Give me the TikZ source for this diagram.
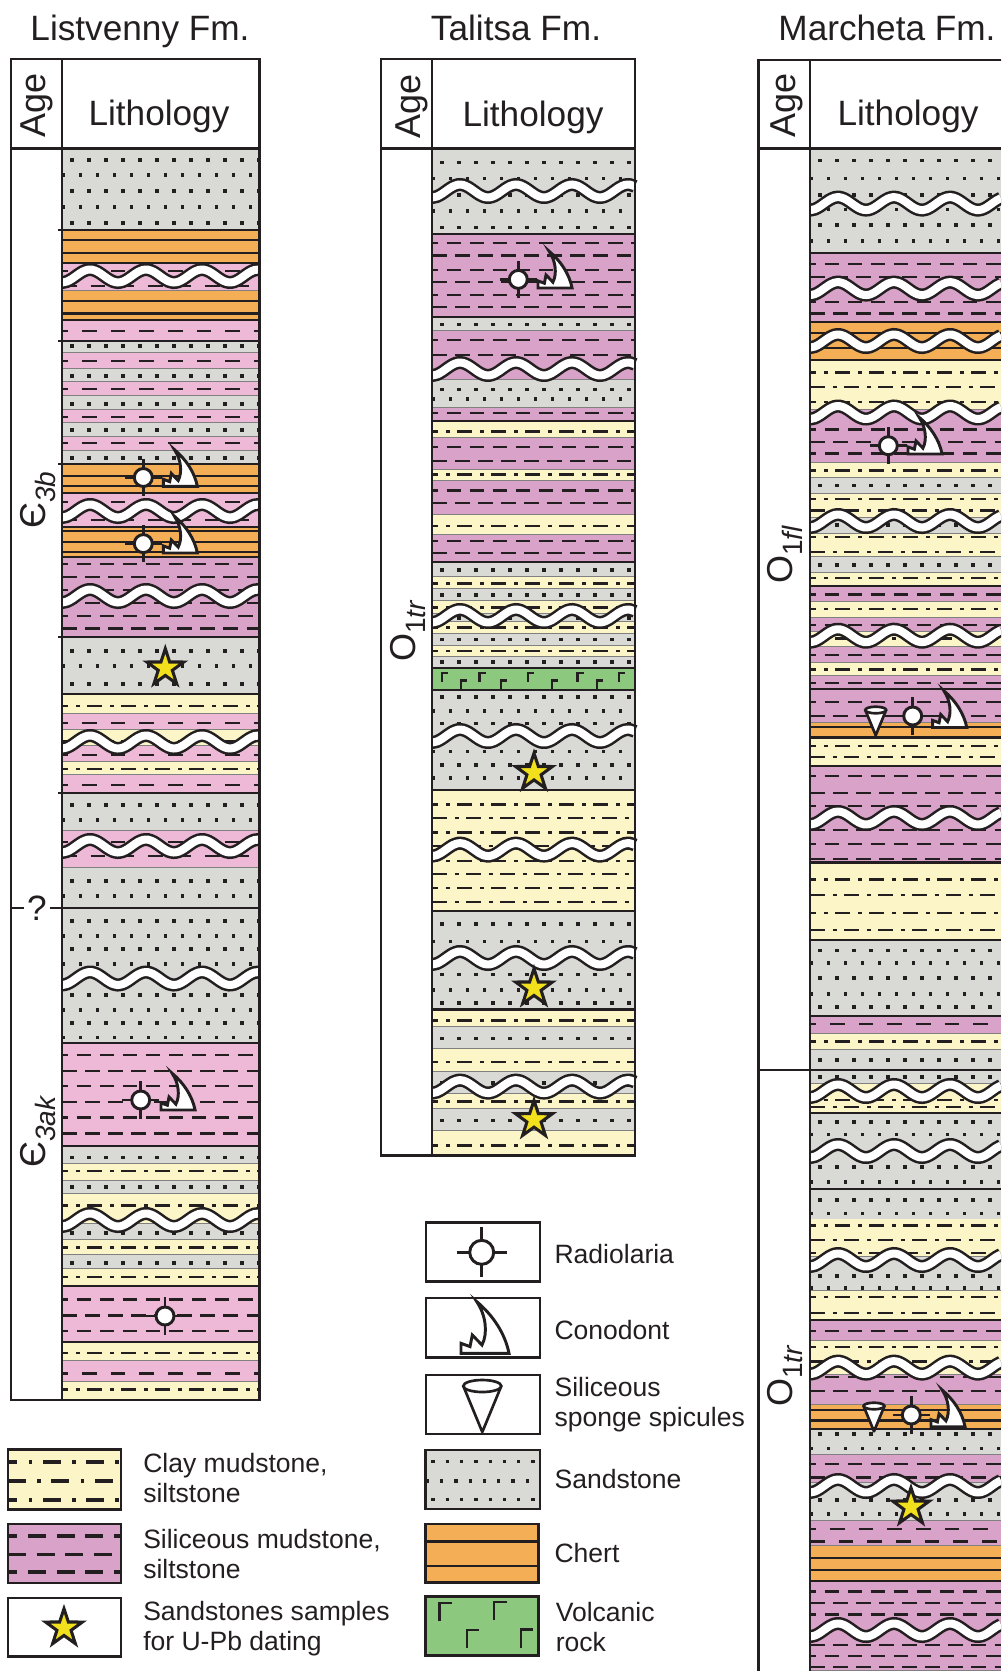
\documentclass[tikz,border=0pt]{standalone}
\usepackage{fontspec}
\setmainfont{Liberation Sans}
\usetikzlibrary{shapes.geometric}

\definecolor{ink}{HTML}{231F20}
\definecolor{sandcol}{HTML}{D9DAD6}
\definecolor{chertcol}{HTML}{F4AE55}
\definecolor{claycol}{HTML}{FCF5C8}
\definecolor{lsilcol}{HTML}{EDB9D7}
\definecolor{silcol}{HTML}{D9A2C8}
\definecolor{volccol}{HTML}{8CC97E}
\definecolor{starcol}{HTML}{F2E01C}

\tikzset{
  titlefont/.style={font=\fontsize{26.4}{30}\selectfont, text=ink, inner sep=0pt},
  agefont/.style={font=\fontsize{27}{30}\selectfont, text=ink, inner sep=0pt, rotate=90, anchor=base west},
  legendtext/.style={font=\fontsize{19.9}{22.5}\selectfont, text=ink, inner sep=0pt, align=left, anchor=west},
  frameline/.style={draw=ink, line width=2pt},
  contact/.style={draw=ink, line width=2pt},
  bedline/.style={draw=black!50, line width=.8pt},
  sandfill/.style={fill=sandcol},
  chertfill/.style={fill=chertcol},
  clayfill/.style={fill=claycol},
  silfill/.style={fill=silcol},
  silwfill/.style={fill=silcol},
  lsilfill/.style={fill=lsilcol},
  lsilnfill/.style={fill=lsilcol},
  bigsandfill/.style={fill=sandcol},
  bigclayfill/.style={fill=claycol},
  bigsilfill/.style={fill=silcol},
  sandrow/.style={draw=ink, line width=2.5pt, dash pattern=on 2.5pt off 10.25pt},
  chertrow/.style={draw=ink, line width=2pt},
  clayrow/.style={draw=ink, line width=2.1pt, dash pattern=on 10.9pt off 6.3pt on 2.8pt off 5.5pt},
  silrow/.style={draw=ink, line width=2.1pt, dash pattern=on 10.9pt off 6.4pt},
  lsilnrow/.style={silrow},
  lsilrow/.style={draw=ink, line width=2.1pt, dash pattern=on 10.9pt off 10.6pt},
  silwrow/.style={lsilrow},
  bigsandrow/.style={draw=ink, line width=2.5pt, dash pattern=on 2.5pt off 8.2pt},
  bigclayrow/.style={draw=ink, line width=2.4pt, dash pattern=on 13.5pt off 8.3pt on 2.8pt off 8pt},
  bigsilrow/.style={draw=ink, line width=2.4pt, dash pattern=on 13.5pt off 8pt},
  samplestar/.style={star, star points=5, star point ratio=2.6, minimum size=29pt, inner sep=0pt, draw=ink, fill=starcol, line width=2.3pt, miter limit=10},
  pics/radiolaria/.style={code={
    \draw[ink, line width=2.2pt] (-25,0) -- (25,0) (0,-25) -- (0,25);
    \draw[ink, fill=white, line width=2.2pt] (0,0) circle[radius=12];
  }},
  pics/conodont/.style={code={
    \draw[ink, fill=white, line width=2.2pt, line join=miter] (0,0) -- (0,-10) -- (9,-6.7) -- (11.3,-18.3) -- (21,-8.3)
      .. controls (27,-20) and (25,-38) .. (15.7,-51.7)
      .. controls (32,-38) and (44,-20) .. (48,0) -- cycle;
  }},
  pics/spicule/.style={code={
    \draw[ink, fill=white, line width=2pt, line join=round] (-19,0) -- (0,46) -- (19,0);
    \draw[ink, fill=white, line width=2pt] (0,0) ellipse[x radius=19, y radius=6];
  }},
  pics/basalt/.style={code={
    \draw[ink, line width=1.8pt] (0,18.3) -- (0,0) -- (12.7,0);
  }},
}

\newcommand{\stratum}[4]{%
  \fill[#1fill] (\xa,#2) rectangle (\xb,#3);
  \draw[bedline] (\xa,#3) -- (\xb,#3);
  \foreach \y [count=\i] in {#4} {
    \pgfmathsetmacro{\rowshift}{mod(\i,2)*6.4}
    \draw[#1row, dash phase=\rowshift pt] (\xa,\y) -- (\xb,\y);
  }
}
\newcommand{\unconf}[1]{%
  \draw[ink, line width=9.8pt] plot[smooth, domain=\xa:\xb, samples=40] (\x,{#1+6.5*cos(6.43*(\x-\xa))});
  \draw[white, line width=6pt] plot[smooth, domain=\xa:\xb, samples=40] (\x,{#1+6.5*cos(6.43*(\x-\xa))});
}
\newcommand{\agesub}[1]{\raisebox{-.3em}{\fontsize{21}{21}\selectfont #1}}

\begin{document}
\begin{tikzpicture}[x=.75pt, y=-.75pt]
\useasboundingbox (0,0) rectangle (1001,1671);
\clip (0,0) rectangle (1001,1671);

% Listvenny column
\begin{scope}
\def\xa{62}\def\xb{259.5}
\stratum{sand}{149}{230}{160,175,191,207,223}
\stratum{chert}{230}{263}{240,253}
\stratum{lsil}{263}{291}{271,286}
\stratum{chert}{291}{320}{301,313.5}
\stratum{lsil}{320}{341}{331}
\stratum{sand}{341}{353}{346}
\stratum{lsil}{353}{369}{361}
\stratum{sand}{369}{382}{376}
\stratum{lsil}{382}{396}{389}
\stratum{sand}{396}{410}{404}
\stratum{lsil}{410}{423}{417}
\stratum{sand}{423}{437}{430}
\stratum{lsil}{437}{451}{443}
\stratum{sand}{451}{464}{458}
\stratum{chert}{464}{493}{476,486}
\stratum{lsil}{493}{527}{502,520}
\stratum{chert}{527}{557}{531,542,552}
\stratum{sil}{557}{637}{564,577,590,603,616,628.5}
\stratum{sand}{637}{694}{651,666,684}
\stratum{clay}{694}{714}{706}
\stratum{lsil}{714}{730}{723}
\stratum{clay}{730}{746}{741}
\stratum{lsil}{746}{762}{755}
\stratum{clay}{762}{775}{769}
\stratum{lsil}{775}{793}{785}
\stratum{sand}{793}{831}{805,820}
\stratum{lsil}{831}{868}{842,856}
\stratum{sand}{868}{908}{881,896}
\stratum{sand}{908}{1043}{921,936,949,964,995,1010,1023,1037.5}
\stratum{lsiln}{1043}{1146}{1055,1071,1086,1102,1117.5,1133.5}
\stratum{sand}{1146}{1164}{1157.5}
\stratum{clay}{1164}{1181}{1171}
\stratum{sand}{1181}{1194}{1187}
\stratum{clay}{1194}{1224}{1205.6}
\stratum{sand}{1224}{1240}{1233}
\stratum{clay}{1240}{1255}{1247.5}
\stratum{sand}{1255}{1269}{1263}
\stratum{clay}{1269}{1286}{1277}
\stratum{lsiln}{1286}{1342}{1299.6,1315.6,1331}
\stratum{clay}{1342}{1361}{1353}
\stratum{lsil}{1361}{1382}{1373.5}
\stratum{clay}{1382}{1400}{1389.5}
\foreach \y in {230,263,320,341,464,493,527,557,637,694,793,908,1043,1146,1286,1342}
  \draw[contact] (\xa,\y) -- (\xb,\y);
\foreach \y in {230,341,464,637,793}
  \draw[contact] (58,\y) -- (\xa,\y);
\foreach \y in {276,511,596,742,846,978.5,1220}
  \unconf{\y}
\draw[frameline] (11,59) rectangle (\xb,1400);
\draw[frameline] (\xa,59) -- (\xa,1400);
\draw[frameline] (11,148.6) -- (\xb,148.6);
\end{scope}
\node[titlefont, anchor=base] (listvennyTitle) at (140,40) {Listvenny Fm.};
\node[titlefont, anchor=base] (listvennyLith) at (159,125) {Lithology};
\node[agefont] (listvennyAge) at (45,138) {Age};
\node[agefont] (listvennyUpper) at (45,529) {Є\agesub{\itshape 3b}};
\node[agefont] (listvennyLower) at (45,1168) {Є\agesub{\itshape 3ak}};
\node[titlefont, inner sep=2pt] (listvennyQ) at (37,908) {?};
\draw[contact, line width=1.6pt] (11,908) -- (listvennyQ) -- (62,908);
\pic[scale=.75] at (143.3,477.5) {radiolaria};
\pic[scale=.71] at (163.3,486.4) {conodont};
\pic[scale=.75] at (143.3,543.6) {radiolaria};
\pic[scale=.71] at (163.3,553) {conodont};
\node[samplestar] (listvennyStar) at (165.3,668) {};
\pic[scale=.75] at (140.7,1100) {radiolaria};
\pic[scale=.71] at (161,1110) {conodont};
\pic[scale=.75] at (165,1316) {radiolaria};

% Talitsa column
\begin{scope}
\def\xa{432}\def\xb{635}
\stratum{sand}{149}{234}{162.6,178.7,195,211,227.7}
\stratum{sil}{234}{317}{243,255.6,270,282,295,307}
\stratum{sand}{317}{331}{324.5}
\stratum{sil}{331}{380}{340,355}
\stratum{sand}{380}{408}{389.6,399}
\stratum{sil}{408}{421}{413}
\stratum{clay}{421}{437.5}{431.7}
\stratum{sil}{437.5}{470}{447,461}
\stratum{clay}{470}{481}{474.6}
\stratum{sil}{481}{515}{490.6,503}
\stratum{clay}{515}{534.6}{526}
\stratum{sil}{534.6}{562}{541,553}
\stratum{sand}{562}{577}{570}
\stratum{clay}{577}{589}{583.6}
\stratum{sand}{589}{600.5}{595}
\stratum{clay}{600.5}{614}{607.7}
\stratum{sand}{614}{622}{618}
\stratum{clay}{622}{634}{627.6}
\stratum{sand}{634}{645.7}{639.7}
\stratum{clay}{645.7}{657}{651}
\stratum{sand}{657}{668}{662}
\fill[volccol] (\xa,668) rectangle (\xb,690);
\foreach \x/\y in {441.7/672.8,460.7/680.3,479.3/672.8,500.7/680.3,527.7/672.8,551.7/680.3,577.3/672.8,596.7/680.3,618.7/672.8}
  \pic[scale=.5] at (\x,\y) {basalt};
\stratum{sand}{690}{790}{697,711,723.6,751.8,765,778}
\stratum{clay}{790}{911}{804.4,818,832.7,846,861,874,888,902}
\stratum{sand}{911}{1009.5}{924,941.8,974.5,990,1003}
\stratum{clay}{1009.5}{1027}{1020.8}
\stratum{sand}{1027}{1049}{1038.5}
\stratum{clay}{1049}{1071.6}{1062}
\stratum{sand}{1071.6}{1094}{1083}
\stratum{clay}{1094}{1109}{1101.7}
\stratum{sand}{1109}{1131}{1120.5}
\stratum{clay}{1131}{1155.5}{1145.7}
\foreach \y in {234,317,421,562,668,690,790,911,1009.5}
  \draw[contact] (\xa,\y) -- (\xb,\y);
\foreach \y in {191,369,616,736,849.6,958,1086.6}
  \unconf{\y}
\draw[frameline] (381,59) rectangle (\xb,1155.5);
\draw[frameline] (\xa,59) -- (\xa,1155.5);
\draw[frameline] (381,148.6) -- (\xb,148.6);
\end{scope}
\node[titlefont, anchor=base] (talitsaTitle) at (516,40) {Talitsa Fm.};
\node[titlefont, anchor=base] (talitsaLith) at (533,126) {Lithology};
\node[agefont] (talitsaAge) at (420,139) {Age};
\node[agefont] (talitsaLabel) at (415,662) {O\agesub{1\itshape tr}};
\pic[scale=.75] at (518.3,279.4) {radiolaria};
\pic[scale=.71] at (538,288) {conodont};
\node[samplestar] (talitsaStarA) at (534,772.5) {};
\node[samplestar] (talitsaStarB) at (534,988) {};
\node[samplestar] (talitsaStarC) at (534,1119.7) {};

% Marcheta column
\begin{scope}
\def\xa{810}\def\xb{1001}
\stratum{sand}{149}{253}{160.7,178.6,195,209.6,225,241}
\stratum{sil}{253}{322}{264,277,302,313.6}
\stratum{chert}{322}{360}{333,348}
\stratum{clay}{360}{410}{372.5,387,402}
\stratum{sil}{410}{462.5}{429.6,442,453.6}
\stratum{clay}{462.5}{478}{470.7}
\stratum{sand}{478}{494}{485.7}
\stratum{clay}{494}{518}{499,510.7}
\stratum{sand}{518}{534}{525}
\stratum{clay}{534}{557}{537,552}
\stratum{sand}{557}{573}{565}
\stratum{clay}{573}{586}{578}
\stratum{sil}{586}{602}{594.6}
\stratum{clay}{602}{618}{609}
\stratum{sil}{618}{632}{625}
\stratum{clay}{632}{647}{638.6}
\stratum{sil}{647}{662.5}{655}
\stratum{clay}{662.5}{675.7}{669.6}
\stratum{sil}{675.7}{689}{683}
\stratum{sil}{689}{723}{702,716}
\stratum{chert}{723}{737.5}{727}
\stratum{clay}{737.5}{766}{746,757}
\stratum{sil}{766}{862.5}{776,793,806,830,844,859}
\stratum{clay}{862.5}{940}{879.6,895,913,930}
\stratum{sand}{940}{1016}{950.7,963,978,994,1007}
\stratum{silw}{1016}{1034}{1024}
\stratum{clay}{1034}{1050}{1041.4}
\stratum{sand}{1050}{1070}{1060}
\stratum{sand}{1070}{1084}{1077}
\stratum{clay}{1084}{1113}{1100,1107}
\stratum{sand}{1113}{1189}{1122,1134.6,1167,1182}
\stratum{sand}{1189}{1219.4}{1200,1213.6}
\stratum{clay}{1219.4}{1256.6}{1225.6,1240,1253}
\stratum{sand}{1256.6}{1291}{1276,1288}
\stratum{clay}{1291}{1320}{1297,1313}
\stratum{sil}{1320}{1341}{1331}
\stratum{clay}{1341}{1375}{1347,1361.5}
\stratum{sil}{1375}{1405}{1377,1391}
\stratum{chert}{1405}{1429}{1410,1420.5}
\stratum{sand}{1429}{1455}{1434,1448.5}
\stratum{sil}{1455}{1483}{1464,1477.6}
\stratum{sand}{1483}{1520.6}{1500,1514}
\stratum{silw}{1520.6}{1546}{1529,1541.7}
\stratum{chert}{1546}{1581}{1558,1570}
\stratum{sil}{1581}{1671}{1591.6,1603,1614.6,1645,1656,1667}
\foreach \y in {253,322,360,586,689,737.5,766,862.5,940,1016,1070,1113,1189,1320,1429,1581}
  \draw[contact] (\xa,\y) -- (\xb,\y);
\foreach \y in {203.6,288.6,341,412.5,521,635.7,818,1091,1151,1260,1367.6,1486,1630}
  \unconf{\y}
\draw[frameline] (\xb,60) -- (758.3,60) -- (758.3,1671);
\draw[frameline] (\xa,60) -- (\xa,1671);
\draw[frameline] (758.3,148.6) -- (\xb,148.6);
\draw[frameline] (758.3,1070) -- (\xa,1070);
\end{scope}
\node[titlefont, anchor=base] (marchetaTitle) at (887,40) {Marcheta Fm.};
\node[titlefont, anchor=base] (marchetaLith) at (908,125) {Lithology};
\node[agefont] (marchetaAge) at (795,138) {Age};
\node[agefont] (marchetaUpper) at (792,584) {O\agesub{1\itshape fl}};
\node[agefont] (marchetaLower) at (792,1407) {O\agesub{1\itshape tr}};
\pic[scale=.75] at (888.3,445.7) {radiolaria};
\pic[scale=.71] at (908,454) {conodont};
\pic[scale=.55] at (875.7,710) {spicule};
\pic[scale=.75] at (912.7,716) {radiolaria};
\pic[scale=.71] at (932.7,727.5) {conodont};
\pic[scale=.55] at (874,1406) {spicule};
\pic[scale=.75] at (911.3,1415) {radiolaria};
\pic[scale=.71] at (931,1426.7) {conodont};
\node[samplestar] (marchetaStar) at (911,1507) {};

% left legend
\begin{scope}
\def\xa{8}\def\xb{121}
\stratum{bigclay}{1449.6}{1509.7}{1462,1481,1500}
\stratum{bigsil}{1524}{1583}{1536,1554.5,1572}
\draw[frameline] (\xa,1449.6) rectangle (\xb,1509.7);
\draw[frameline] (\xa,1524) rectangle (\xb,1583);
\draw[frameline] (\xa,1598) rectangle (\xb,1656.4);
\end{scope}
\node[samplestar] (legendStar) at (64,1628) {};
\node[legendtext] (clayText) at (143,1478) {Clay mudstone,\\siltstone};
\node[legendtext] (silText) at (143,1554) {Siliceous mudstone,\\siltstone};
\node[legendtext] (sampleText) at (143,1629) {Sandstones samples\\for U-Pb dating};

% middle legend
\draw[frameline] (426,1222.7) rectangle (540,1281.7);
\draw[frameline] (426,1298) rectangle (540,1357.7);
\draw[frameline] (426,1375) rectangle (540,1434);
\pic at (481.7,1252.3) {radiolaria};
\pic at (461,1353.3) {conodont};
\pic at (482.3,1386) {spicule};
\begin{scope}
\def\xa{425.7}\def\xb{540}
\stratum{bigsand}{1450}{1509}{1461.7,1481,1499.3}
\draw[frameline] (\xa,1450) rectangle (\xb,1509);
\end{scope}
\begin{scope}
\def\xa{425.7}\def\xb{538.7}
\stratum{chert}{1524}{1582.7}{1541.7,1566}
\draw[frameline] (\xa,1524) rectangle (\xb,1582.7);
\fill[volccol] (\xa,1596.7) rectangle (\xb,1655.7);
\draw[frameline] (\xa,1596.7) rectangle (\xb,1655.7);
\end{scope}
\foreach \x/\y in {439.3/1602.7,494/1602,466.7/1630,520.7/1629.3}
  \pic at (\x,\y) {basalt};
\node[legendtext] (radText) at (554.3,1254) {Radiolaria};
\node[legendtext] (conText) at (554.3,1330) {Conodont};
\node[legendtext] (spongeText) at (554.3,1405) {Siliceous\\sponge spicules};
\node[legendtext] (sandText) at (554.3,1479) {Sandstone};
\node[legendtext] (chertText) at (554.3,1553) {Chert};
\node[legendtext] (volcText) at (555.5,1627) {Volcanic\\rock};
\end{tikzpicture}
\end{document}
